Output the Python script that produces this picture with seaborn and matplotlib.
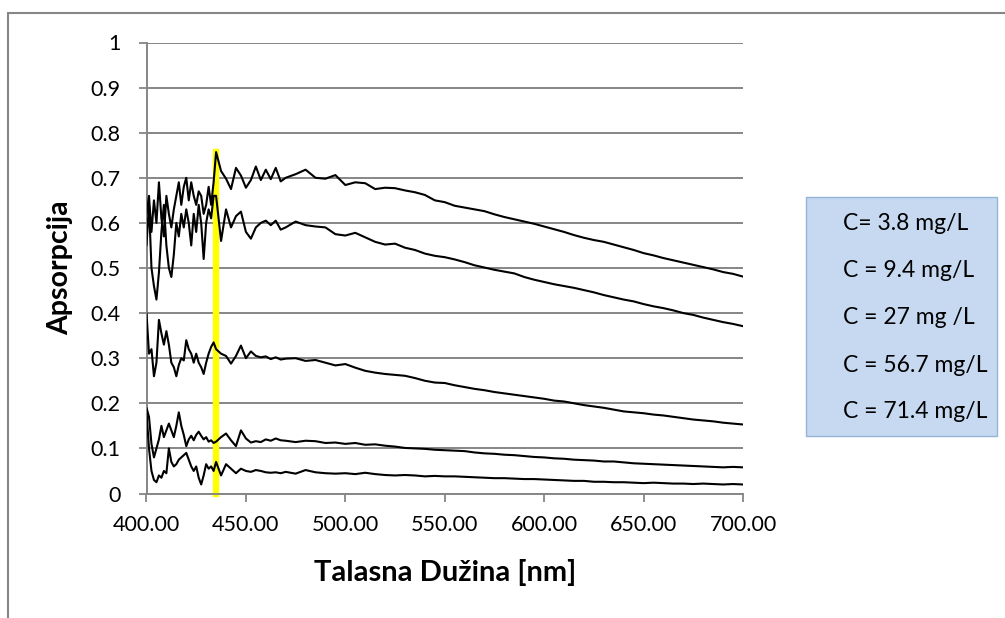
import numpy as np
import pandas as pd
import seaborn as sns
import matplotlib
matplotlib.use("Agg")
import matplotlib.pyplot as plt
from matplotlib.patches import Rectangle

# Wavelength grid [nm]: fine sampling in the noisy blue end, coarser afterwards
wl_fine = np.arange(400.0, 435.01, 1.25)
wl_mid = np.arange(437.5, 470.01, 2.5)
wl_coarse = np.arange(475.0, 700.01, 5.0)
wavelength = np.concatenate([wl_fine, wl_mid, wl_coarse])

concentrations = ["C= 3.8 mg/L", "C = 9.4 mg/L", "C = 27 mg /L", "C = 56.7 mg/L", "C = 71.4 mg/L"]

abs_3_8 = [
    0.18, 0.10, 0.05, 0.03, 0.025, 0.04, 0.035, 0.05, 0.045, 0.10, 0.07, 0.06, 0.065, 0.075, 0.08,
    0.085, 0.09, 0.075, 0.06, 0.05, 0.06, 0.035, 0.02, 0.04, 0.065, 0.055, 0.06, 0.05, 0.07,
    0.04, 0.065, 0.055, 0.045, 0.055, 0.050, 0.048, 0.052, 0.050, 0.047, 0.046, 0.047, 0.045, 0.048,
    0.044, 0.052, 0.047, 0.045, 0.044, 0.045, 0.043, 0.046, 0.043, 0.041, 0.040, 0.041, 0.040, 0.038,
    0.039, 0.038, 0.038, 0.037, 0.036, 0.035, 0.034, 0.034, 0.033, 0.032, 0.032, 0.031, 0.030, 0.029,
    0.028, 0.028, 0.026, 0.026, 0.025, 0.025, 0.024, 0.023, 0.024, 0.023, 0.022, 0.022, 0.021, 0.022,
    0.021, 0.020, 0.021, 0.020,
]
abs_9_4 = [
    0.19, 0.17, 0.11, 0.08, 0.10, 0.12, 0.15, 0.125, 0.14, 0.155, 0.14, 0.125, 0.15, 0.18, 0.15,
    0.13, 0.105, 0.12, 0.128, 0.118, 0.13, 0.137, 0.128, 0.12, 0.125, 0.115, 0.118, 0.112, 0.115,
    0.125, 0.133, 0.118, 0.105, 0.140, 0.122, 0.113, 0.116, 0.114, 0.120, 0.117, 0.122, 0.118, 0.117,
    0.114, 0.117, 0.116, 0.112, 0.113, 0.110, 0.112, 0.108, 0.109, 0.106, 0.104, 0.101, 0.100, 0.099,
    0.097, 0.096, 0.095, 0.094, 0.091, 0.089, 0.088, 0.086, 0.085, 0.083, 0.081, 0.080, 0.078, 0.077,
    0.075, 0.074, 0.073, 0.071, 0.071, 0.069, 0.067, 0.066, 0.065, 0.064, 0.063, 0.062, 0.061, 0.060,
    0.059, 0.058, 0.059, 0.058,
]
abs_27 = [
    0.40, 0.31, 0.32, 0.26, 0.29, 0.385, 0.355, 0.33, 0.36, 0.33, 0.29, 0.28, 0.26, 0.285, 0.30,
    0.295, 0.34, 0.32, 0.31, 0.29, 0.31, 0.29, 0.28, 0.265, 0.29, 0.31, 0.325, 0.335, 0.32,
    0.31, 0.305, 0.288, 0.305, 0.328, 0.300, 0.315, 0.305, 0.302, 0.304, 0.298, 0.302, 0.297, 0.299,
    0.300, 0.294, 0.296, 0.290, 0.284, 0.287, 0.279, 0.272, 0.268, 0.265, 0.263, 0.261, 0.256, 0.250,
    0.246, 0.245, 0.240, 0.236, 0.232, 0.229, 0.225, 0.222, 0.219, 0.216, 0.213, 0.210, 0.206, 0.204,
    0.200, 0.196, 0.193, 0.190, 0.186, 0.182, 0.180, 0.178, 0.175, 0.173, 0.170, 0.167, 0.164, 0.162,
    0.160, 0.157, 0.155, 0.153,
]
abs_56_7 = [
    0.55, 0.64, 0.50, 0.46, 0.43, 0.49, 0.58, 0.64, 0.55, 0.50, 0.48, 0.53, 0.60, 0.57, 0.62,
    0.59, 0.63, 0.60, 0.55, 0.62, 0.58, 0.64, 0.60, 0.52, 0.60, 0.63, 0.61, 0.66, 0.66,
    0.56, 0.63, 0.59, 0.615, 0.625, 0.58, 0.565, 0.59, 0.60, 0.605, 0.595, 0.605, 0.585, 0.590,
    0.603, 0.595, 0.592, 0.590, 0.575, 0.572, 0.578, 0.568, 0.558, 0.552, 0.554, 0.545, 0.540, 0.532,
    0.527, 0.524, 0.519, 0.513, 0.506, 0.501, 0.496, 0.492, 0.488, 0.480, 0.474, 0.469, 0.464, 0.460,
    0.456, 0.451, 0.446, 0.440, 0.435, 0.430, 0.426, 0.420, 0.415, 0.411, 0.406, 0.400, 0.396, 0.390,
    0.385, 0.380, 0.376, 0.371,
]
abs_71_4 = [
    0.62, 0.66, 0.58, 0.65, 0.60, 0.69, 0.61, 0.57, 0.66, 0.62, 0.59, 0.63, 0.66, 0.69, 0.64,
    0.68, 0.70, 0.65, 0.69, 0.66, 0.64, 0.67, 0.66, 0.62, 0.64, 0.68, 0.64, 0.69, 0.757,
    0.715, 0.698, 0.675, 0.722, 0.705, 0.678, 0.695, 0.725, 0.695, 0.718, 0.697, 0.722, 0.692, 0.700,
    0.708, 0.718, 0.700, 0.698, 0.706, 0.684, 0.690, 0.688, 0.675, 0.678, 0.677, 0.672, 0.668, 0.662,
    0.650, 0.646, 0.638, 0.634, 0.630, 0.626, 0.619, 0.613, 0.608, 0.603, 0.598, 0.592, 0.586, 0.580,
    0.573, 0.567, 0.562, 0.558, 0.552, 0.546, 0.540, 0.533, 0.528, 0.522, 0.517, 0.512, 0.507, 0.502,
    0.497, 0.491, 0.487, 0.481,
]
spectra = [abs_3_8, abs_9_4, abs_27, abs_56_7, abs_71_4]

# Marker line at the absorption maximum
marker_wl = [435.0, 435.0]
marker_abs = [0.0, 0.757]

x_ticks = [400, 450, 500, 550, 600, 650, 700]
y_ticks = [0, 0.1, 0.2, 0.3, 0.4, 0.5, 0.6, 0.7, 0.8, 0.9, 1.0]

sns.set_theme(style="ticks")
plt.rcParams["font.family"] = ["Lato", "DejaVu Sans"]

GRAY = "#868686"

df = pd.concat(
    [pd.DataFrame({"wl": wavelength, "A": vals, "C": lab}) for lab, vals in zip(concentrations, spectra)],
    ignore_index=True,
)

W, H = 1005, 618
fig = plt.figure(figsize=(W / 100, H / 100), dpi=100)
ax = fig.add_axes([146.5 / W, 1 - 493.5 / H, 596.5 / W, 451 / H])

sns.lineplot(
    x=marker_wl, y=marker_abs, color="#FFFF00", lw=4.6, estimator=None, ax=ax,
    zorder=2, solid_capstyle="projecting",
)
sns.lineplot(
    data=df, x="wl", y="A", hue="C", palette=["black"] * len(concentrations),
    estimator=None, legend=False, lw=1.5, ax=ax, zorder=3,
)
ax.lines[0].set_clip_on(False)

ax.set_xlim(400, 700)
ax.set_ylim(0, 1)
ax.set_xticks(x_ticks)
ax.set_xticklabels([f"{t:.2f}" for t in x_ticks])
ax.set_yticks(y_ticks)
ax.set_yticklabels(["0" if t == 0 else ("1" if t == 1 else f"{t:.1f}") for t in y_ticks])

ax.yaxis.grid(True, color=GRAY, lw=1.4)
ax.xaxis.grid(False)
ax.set_axisbelow(True)
for side in ("top", "right"):
    ax.spines[side].set_visible(False)
for side in ("left", "bottom"):
    ax.spines[side].set_color(GRAY)
    ax.spines[side].set_linewidth(1.4)

ax.tick_params(axis="both", direction="out", length=5.5, width=1.3, color=GRAY,
               labelsize=15.5, labelcolor="black", bottom=True, left=True)
ax.tick_params(axis="y", pad=13)
ax.tick_params(axis="x", pad=10)

ax.set_xlabel("Talasna Dužina [nm]", fontsize=21, fontweight="bold", color="black")
ax.set_ylabel("Apsorpcija", fontsize=20.5, fontweight="bold", color="black")
ax.xaxis.label.set_va("center")
ax.xaxis.set_label_coords(0.5, (493.5 - 573) / 451)
ax.yaxis.label.set_va("center")
ax.yaxis.set_label_coords((60 - 146.5) / 596.5, 0.5)

# Chart-area frame (only its top and left edges fall inside the canvas)
fig.patches.append(Rectangle((7.5 / W, -0.2), 1.2, 1.2 - 12.7 / H, transform=fig.transFigure,
                             fill=False, edgecolor=GRAY, lw=1.5))

# Legend box with the concentration labels
fig.patches.append(Rectangle((806 / W, 1 - 436 / H), 191 / W, 239 / H, transform=fig.transFigure,
                             facecolor="#C6D9F1", edgecolor="#95B3D7", lw=1.0))
for i, lab in enumerate(concentrations):
    fig.text(843 / W, 1 - (224 + 47 * i) / H, lab, fontsize=16.5, ha="left", va="center", color="black")

fig.savefig("out.png", dpi=100)
